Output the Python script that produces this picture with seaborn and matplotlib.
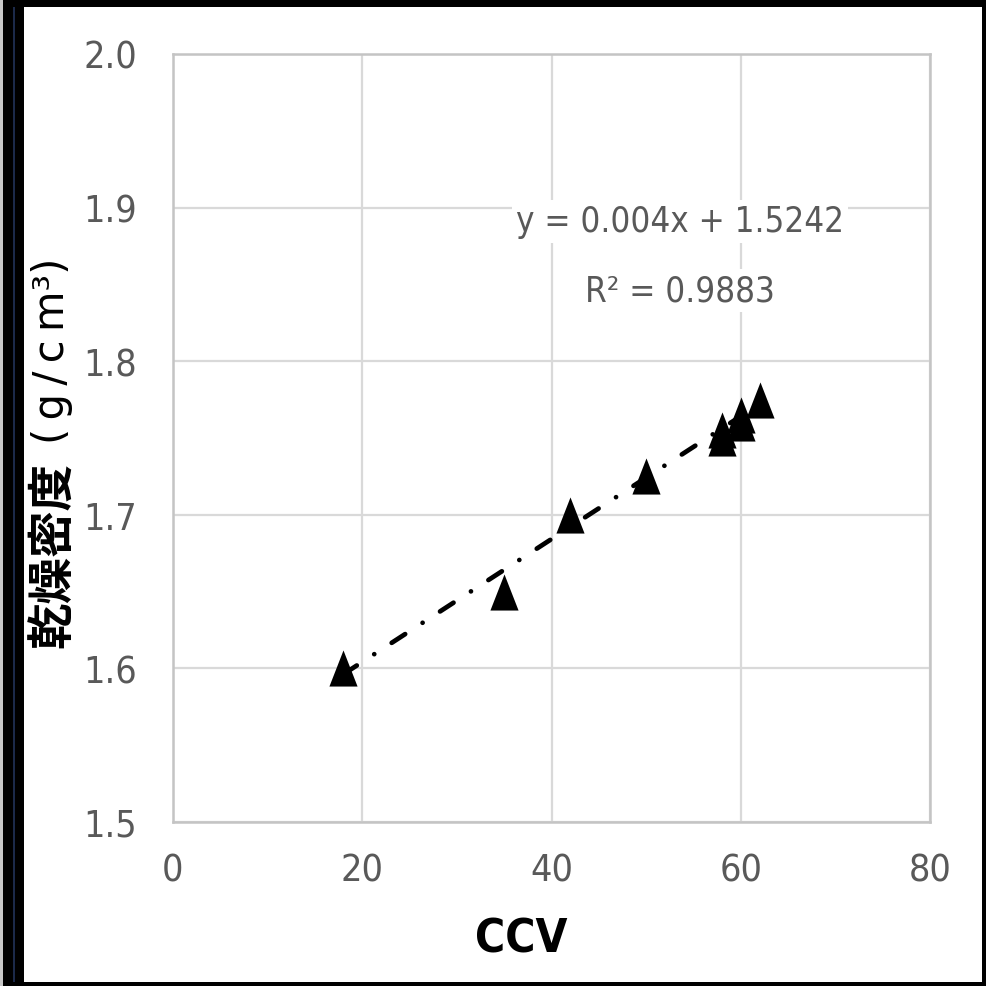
import matplotlib
matplotlib.use("Agg")
import matplotlib.pyplot as plt
from matplotlib.path import Path
from matplotlib.patches import Rectangle
import numpy as np
import pandas as pd
import seaborn as sns

# Measured samples: CCV vs. dry density
ccv = [18, 35, 42, 50, 58, 58, 60, 60, 62]
dry_density = [1.600, 1.650, 1.700, 1.725, 1.750, 1.755, 1.760, 1.765, 1.775]

# Linear trendline as reported on the chart
slope = 0.004
intercept = 1.5242
r_squared = 0.9883

x_ticks = [0, 20, 40, 60, 80]
y_ticks = [1.5, 1.6, 1.7, 1.8, 1.9, 2.0]
x_label = "CCV"
y_label_main = "乾燥密度"
y_label_unit = "(\u2009g\u2009/\u2009c\u2009m³)"

sns.set_theme(style="white")
plt.rcParams["font.family"] = ["DejaVu Sans"]
plt.rcParams["font.stretch"] = "condensed"

W, H = 986, 987
fig = plt.figure(figsize=(W / 100, H / 100), dpi=100)
fig.patch.set_facecolor("white")

ax = fig.add_axes([173 / W, 1 - 823 / H, 757 / W, 768 / H])
ax.set_facecolor("white")

df = pd.DataFrame({"ccv": ccv, "density": dry_density})

# Tall triangle marker
tri = Path([(0, 1), (-0.78, -1), (0.78, -1), (0, 1)],
           [Path.MOVETO, Path.LINETO, Path.LINETO, Path.CLOSEPOLY])
sns.scatterplot(data=df, x="ccv", y="density", marker=tri, s=26 ** 2,
                color="black", edgecolor="black", linewidth=0, ax=ax, zorder=3)

# Trendline over the data range
x_fit = np.array([min(ccv), max(ccv)], dtype=float)
fit_df = pd.DataFrame({"ccv": x_fit, "density": slope * x_fit + intercept})
sns.lineplot(data=fit_df, x="ccv", y="density", color="black", linewidth=3.4,
             linestyle=(0, (3.4, 4.4, 0.01, 4.4)), dash_capstyle="round",
             ax=ax, zorder=4)

ax.set_xlim(0, 80)
ax.set_ylim(1.5, 2.0)
ax.set_xticks(x_ticks)
ax.set_yticks(y_ticks)
ax.set_xticklabels([f"{v:g}" for v in x_ticks])
ax.set_yticklabels([f"{v:.1f}" for v in y_ticks])
ax.tick_params(axis="both", length=0, labelsize=27, labelcolor="#595959")
ax.tick_params(axis="x", pad=22)
ax.tick_params(axis="y", pad=26)

ax.grid(True, color="#d9d9d9", linewidth=1.6)
ax.set_axisbelow(True)
for sp in ax.spines.values():
    sp.set_visible(True)
    sp.set_color("#c4c4c4")
    sp.set_linewidth(1.8)

ax.set_xlabel(x_label, fontsize=33, fontweight="bold", color="black")
ax.xaxis.set_label_coords((521 - 173) / 757, -(940 - 823) / 768)
ax.xaxis.label.set_va("center")
ax.set_ylabel("")

# Vertical axis title: bold quantity name followed by the unit
fig.text(67 / W, 1 - 648 / H, y_label_main, rotation=90, rotation_mode="anchor",
         ha="left", va="baseline", fontsize=33.5, fontweight="bold", color="black",
         family=["Noto Sans CJK JP", "DejaVu Sans"])
fig.text(64 / W, 1 - 444 / H, y_label_unit, rotation=90, rotation_mode="anchor",
         ha="left", va="baseline", fontsize=30, color="black",
         family=["DejaVu Sans"], fontstretch="normal")

# Trendline equation and R²
eq_kw = dict(ha="center", va="center", fontsize=25, color="#595959",
             bbox=dict(facecolor="white", edgecolor="none", pad=3), zorder=5)
ax.text(53.6, 1.891, f"y = {slope:g}x + {intercept:g}", **eq_kw)
ax.text(53.6, 1.846, f"R² = {r_squared:g}", **eq_kw)

# Dark frame around the picture
def frame_rect(x0, y0, x1, y1, color):
    fig.patches.append(Rectangle((x0 / W, 1 - y1 / H), (x1 - x0) / W, (y1 - y0) / H,
                                 transform=fig.transFigure, facecolor=color,
                                 edgecolor="none", zorder=10))

frame_rect(0, 0, 3, H, "#c8c8c8")
frame_rect(3, 0, 24, H, "black")
frame_rect(13, 8, 15, H, "#1c2a4a")
frame_rect(3, 0, W, 8, "black")
frame_rect(982, 0, W, H, "black")
frame_rect(3, 983, W, H, "black")

fig.savefig("out.png", dpi=100)
